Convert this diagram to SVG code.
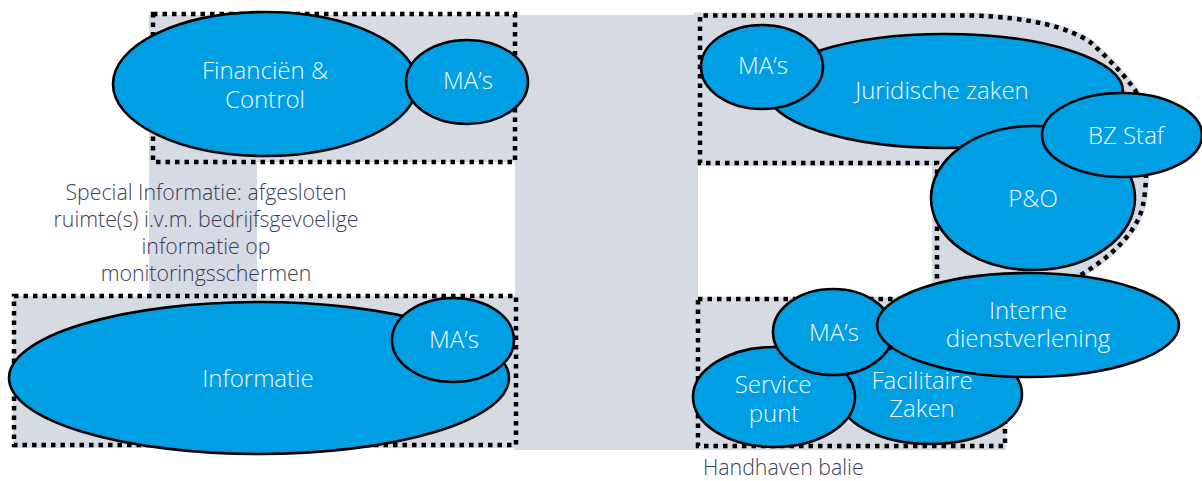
<svg xmlns="http://www.w3.org/2000/svg" width="1202" height="481" viewBox="0 0 1202 481">
<style>
.bg{fill:#d5dae3}
.zone{fill:none;stroke:#000;stroke-width:4.5;stroke-dasharray:4.5 5}
.node ellipse{fill:#009fe3;stroke:#000;stroke-width:2.6}
.lbl{font-family:"Open Sans","Noto Sans",sans-serif;font-weight:300;font-size:24px;fill:#eef7fd;text-anchor:middle}
.note{font-family:"Open Sans","Noto Sans",sans-serif;font-weight:300;font-size:21.3px;fill:#3b3e5b}
</style>
<rect width="1202" height="481" fill="#fff"/>
<g id="background">
<rect class="bg" x="149" y="15" width="366" height="147"/>
<rect class="bg" x="149" y="15" width="108" height="282"/>
<rect class="bg" x="13" y="296" width="504" height="152"/>
<rect class="bg" x="515" y="15" width="183" height="435"/>
<rect class="bg" x="697" y="297" width="309" height="153"/>
<path class="bg" stroke="#d5dae3" stroke-width="6" d="M697,15.5 L970,15.5 C1030,17 1070,28 1090,42 C1105,55 1122,72 1135,90 C1145,104 1150,170 1143,205 C1137,235 1105,262 1075,278 L935,300 L935,163 L697,163 Z"/>
</g>
<g id="zones">
<rect class="zone" x="153" y="14" width="362" height="148"/>
<rect class="zone" x="14" y="296" width="502" height="149"/>
<rect class="zone" x="698" y="299" width="307" height="147"/>
<path class="zone" d="M937,288 L937,163 L700,163 L700,15.5 L970,15.5 C1030,17 1070,28 1090,42 C1105,55 1122,72 1135,90 C1145,104 1150,170 1143,205 C1137,235 1105,262 1072,280"/>
</g>
<g id="connectors"></g>
<g id="financien" class="node">
<ellipse cx="265" cy="84" rx="152" ry="72"/>
<text class="lbl" x="265" y="79">Financiën &amp;</text>
<text class="lbl" x="265" y="108">Control</text>
</g>
<g id="mas-financien" class="node">
<ellipse cx="467" cy="82" rx="61" ry="42"/>
<text class="lbl" x="468" y="89">MA’s</text>
</g>
<g id="informatie" class="node">
<ellipse cx="259" cy="378" rx="250" ry="76"/>
<text class="lbl" x="258" y="387">Informatie</text>
</g>
<g id="mas-informatie" class="node">
<ellipse cx="453" cy="340" rx="61" ry="42"/>
<text class="lbl" x="454" y="348">MA’s</text>
</g>
<g id="juridische-zaken" class="node">
<ellipse cx="945" cy="91" rx="178" ry="57"/>
<text class="lbl" x="942" y="99">Juridische zaken</text>
</g>
<g id="mas-juridisch" class="node">
<ellipse cx="762" cy="67" rx="61" ry="42"/>
<text class="lbl" x="763" y="74">MA’s</text>
</g>
<g id="p-en-o" class="node">
<ellipse cx="1033" cy="198" rx="102" ry="72"/>
<text class="lbl" x="1033" y="207">P&amp;O</text>
</g>
<g id="bz-staf" class="node">
<ellipse cx="1122" cy="135" rx="80" ry="42"/>
<text class="lbl" x="1126" y="144">BZ Staf</text>
</g>
<g id="facilitaire-zaken" class="node">
<ellipse cx="930" cy="394" rx="92" ry="50"/>
<text class="lbl" x="922" y="389">Facilitaire</text>
<text class="lbl" x="922" y="417">Zaken</text>
</g>
<g id="service-punt" class="node">
<ellipse cx="774" cy="397" rx="81" ry="50"/>
<text class="lbl" x="773" y="393">Service</text>
<text class="lbl" x="774" y="422">punt</text>
</g>
<g id="mas-dienstverlening" class="node">
<ellipse cx="833" cy="332" rx="60" ry="43"/>
<text class="lbl" x="834" y="341">MA’s</text>
</g>
<g id="interne-dienstverlening" class="node">
<ellipse cx="1028" cy="325" rx="151" ry="52"/>
<text class="lbl" x="1028" y="319">Interne</text>
<text class="lbl" x="1028" y="347">dienstverlening</text>
</g>
<g id="notes">
<text class="note" text-anchor="middle" x="206" y="200">Special Informatie: afgesloten</text>
<text class="note" text-anchor="middle" x="206" y="227">ruimte(s) i.v.m. bedrijfsgevoelige</text>
<text class="note" text-anchor="middle" x="206" y="254">informatie op</text>
<text class="note" text-anchor="middle" x="206" y="281">monitoringsschermen</text>
<text class="note" x="703" y="475">Handhaven balie</text>
</g>
</svg>
